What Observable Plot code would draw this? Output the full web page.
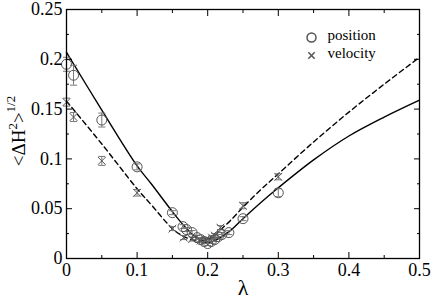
<!DOCTYPE html>
<html>
<head>
<meta charset="utf-8">
<script src="https://cdn.jsdelivr.net/npm/d3@7"></script>
<script src="https://cdn.jsdelivr.net/npm/@observablehq/plot@0.6"></script>
<style>
  body { margin: 0; background: #fff; }
  #chart svg, #chart svg text, #chart svg tspan { font-family: "Liberation Serif", "DejaVu Serif", "Times New Roman", serif !important; }
</style>
</head>
<body>
<div id="chart"></div>
<script>
// ---- data ----
const posLambda = [0, 0.01, 0.05, 0.1, 0.15, 0.165, 0.17, 0.178, 0.185, 0.19, 0.195, 0.2, 0.205, 0.21, 0.215, 0.22, 0.23, 0.25, 0.3];
const posValue  = [0.195, 0.184, 0.139, 0.092, 0.046, 0.032, 0.029, 0.026, 0.021, 0.019, 0.017, 0.015, 0.017, 0.019, 0.022, 0.024, 0.026, 0.040, 0.066];
const posError  = [0.007, 0.010, 0.007, 0.003, 0.002, 0.002, 0.002, 0.002, 0.002, 0.002, 0.002, 0.002, 0.002, 0.002, 0.002, 0.002, 0.002, 0.002, 0.004];

const velLambda = [0, 0.01, 0.05, 0.1, 0.15, 0.166, 0.178, 0.19, 0.197, 0.206, 0.21, 0.218, 0.25, 0.3];
const velValue  = [0.157, 0.142, 0.098, 0.066, 0.030, 0.021, 0.0195, 0.018, 0.019, 0.021, 0.023, 0.031, 0.053, 0.082];
const velError  = [0.004, 0.0045, 0.0045, 0.0033, 0.002, 0.002, 0.002, 0.002, 0.002, 0.002, 0.002, 0.002, 0.003, 0.003];

const fitLambda   = [0, 0.05, 0.1, 0.12, 0.15, 0.165, 0.18, 0.19, 0.2, 0.21, 0.22, 0.232, 0.25, 0.275, 0.3, 0.35, 0.4, 0.45, 0.5];
const fitPosition = [0.207, 0.149, 0.093, 0.075, 0.047, 0.034, 0.023, 0.018, 0.016, 0.018, 0.022, 0.028, 0.040, 0.056, 0.071, 0.099, 0.123, 0.142, 0.159];
const fitVelocity = [0.158, 0.115, 0.070, 0.054, 0.030, 0.0225, 0.0185, 0.0175, 0.019, 0.0235, 0.030, 0.038, 0.0515, 0.069, 0.085, 0.117, 0.147, 0.175, 0.202];

const xMajor = [0, 0.1, 0.2, 0.3, 0.4, 0.5];
const xMinor = [0.05, 0.15, 0.25, 0.35, 0.45];
const xTickLabels = ["0", "0.1", "0.2", "0.3", "0.4", "0.5"];
const yMajor = [0, 0.05, 0.1, 0.15, 0.2, 0.25];
const yMinor = [0.025, 0.075, 0.125, 0.175, 0.225];
const yTickLabels = ["0", "0.05", "0.1", "0.15", "0.2", "0.25"];

const seriesNames = ["position", "velocity"];
const xLabel = "λ";

// ---- tables built from the arrays ----
const pos = posLambda.map((l, i) => ({l, v: posValue[i], e: posError[i]}));
const vel = velLambda.map((l, i) => ({l, v: velValue[i], e: velError[i]}));
const fit = fitLambda.map((l, i) => ({l, p: fitPosition[i], q: fitVelocity[i]}));

const capSymbol = {draw(ctx) { ctx.moveTo(-3.5, 0); ctx.lineTo(3.5, 0); }};
const markerGray = "#555";
const barGray = "#777";

const errMarks = (data) => [
  Plot.ruleX(data, {x: "l", y1: d => d.v - d.e, y2: d => d.v + d.e, stroke: barGray, strokeWidth: 1}),
  Plot.dot(data, {x: "l", y: d => d.v - d.e, symbol: capSymbol, stroke: barGray, fill: "none", strokeWidth: 1}),
  Plot.dot(data, {x: "l", y: d => d.v + d.e, symbol: capSymbol, stroke: barGray, fill: "none", strokeWidth: 1})
];

const serif = "Liberation Serif, DejaVu Serif, Times New Roman, serif";

const plot = Plot.plot({
  width: 434,
  height: 300,
  marginLeft: 66,
  marginRight: 15,
  marginTop: 9,
  marginBottom: 42,
  style: {fontSize: "18px", background: "#fff", color: "#000", overflow: "visible"},
  x: {domain: [0, 0.5]},
  y: {domain: [0, 0.25]},
  marks: [
    // fitted curves
    Plot.line(fit, {x: "l", y: "p", stroke: "#000", strokeWidth: 1.4, curve: "catmull-rom"}),
    Plot.line(fit, {x: "l", y: "q", stroke: "#000", strokeWidth: 1.4, strokeDasharray: "5,3.5", curve: "catmull-rom"}),
    // error bars
    ...errMarks(pos),
    ...errMarks(vel),
    // markers
    Plot.dot(pos, {x: "l", y: "v", r: 5, stroke: markerGray, fill: "none", strokeWidth: 1}),
    Plot.dot(vel, {x: "l", y: "v", r: 3.6, symbol: "times", stroke: markerGray, strokeWidth: 1}),
    // inward ticks on all sides
    Plot.axisX(xMajor, {anchor: "bottom", tickSize: -6, fill: "none", label: null}),
    Plot.axisX(xMinor, {anchor: "bottom", tickSize: -3, fill: "none", label: null}),
    Plot.axisX(xMajor, {anchor: "top", tickSize: -6, fill: "none", label: null}),
    Plot.axisX(xMinor, {anchor: "top", tickSize: -3, fill: "none", label: null}),
    Plot.axisY(yMajor, {anchor: "left", tickSize: -6, fill: "none", label: null}),
    Plot.axisY(yMinor, {anchor: "left", tickSize: -3, fill: "none", label: null}),
    Plot.axisY(yMajor, {anchor: "right", tickSize: -6, fill: "none", label: null}),
    Plot.axisY(yMinor, {anchor: "right", tickSize: -3, fill: "none", label: null}),
    // tick labels
    Plot.axisX(xMajor, {anchor: "bottom", tickSize: 0, tickPadding: 5, tickFormat: (d, i) => xTickLabels[i], label: null, fontFamily: serif}),
    Plot.axisY(yMajor, {anchor: "left", tickSize: 0, tickPadding: 4, tickFormat: (d, i) => yTickLabels[i], label: null, fontFamily: serif}),
    // frame
    Plot.frame({stroke: "#000", strokeWidth: 1.3}),
    // x axis title
    Plot.text([xLabel], {text: d => d, frameAnchor: "bottom", dy: 36, lineAnchor: "bottom", fontSize: 22, fontFamily: serif}),
    // legend
    Plot.dot([seriesNames[0]], {frameAnchor: "top-right", dx: -108, dy: 28, r: 4.5, stroke: markerGray, fill: "none"}),
    Plot.dot([seriesNames[1]], {frameAnchor: "top-right", dx: -108, dy: 46, r: 3, symbol: "times", stroke: markerGray}),
    Plot.text([seriesNames[0]], {text: d => d, frameAnchor: "top-right", dx: -92, dy: 26, textAnchor: "start", lineAnchor: "middle", fontSize: 15, fontFamily: serif}),
    Plot.text([seriesNames[1]], {text: d => d, frameAnchor: "top-right", dx: -92, dy: 44, textAnchor: "start", lineAnchor: "middle", fontSize: 15, fontFamily: serif})
  ]
});

plot.setAttribute("font-family", serif);
plot.style.fontFamily = serif;

// y axis title with superscripts: <ΔH²>^{1/2}
const svg = d3.select(plot);
const t = svg.append("text")
  .attr("transform", "translate(25,131) rotate(-90)")
  .attr("text-anchor", "middle")
  .attr("font-size", 19)
  .attr("font-family", serif)
  .attr("fill", "#000");
t.append("tspan").text("<ΔH");
t.append("tspan").attr("dy", -8).attr("font-size", 13).text("2");
t.append("tspan").attr("dy", 8).text(">");
t.append("tspan").attr("dy", -10).attr("font-size", 13).text("1/2");

document.getElementById("chart").appendChild(plot);
</script>
</body>
</html>
